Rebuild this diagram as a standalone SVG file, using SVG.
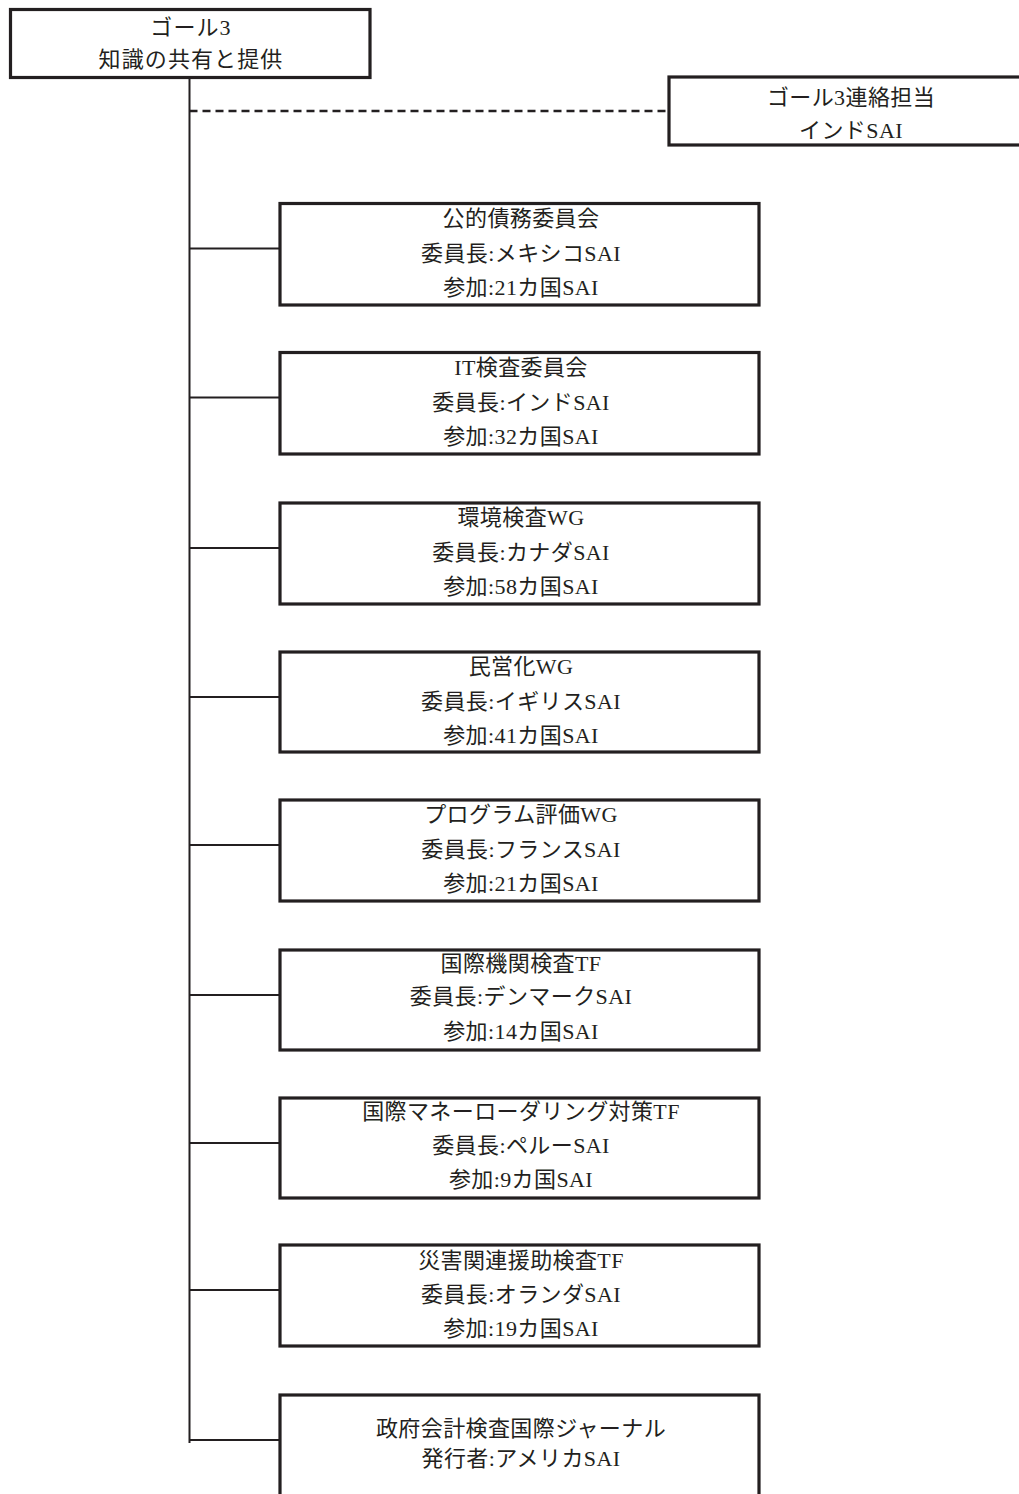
<svg xmlns="http://www.w3.org/2000/svg" width="1019" height="1494" viewBox="0 0 1019 1494">
<style>
.box{fill:#fff;stroke:#231f20;stroke-width:3.2}
.ln{stroke:#231f20;stroke-width:2;fill:none}
.dash{stroke:#231f20;stroke-width:2.6;stroke-dasharray:8 5;fill:none}
text{font-family:"Liberation Serif","Noto Sans CJK JP",serif;font-size:22px;fill:#231f20;text-anchor:middle;letter-spacing:0.4px}
.wide{letter-spacing:1.1px}
</style>
<rect width="1019" height="1494" fill="#fff"/>
<g id="connectors">
<line class="ln" x1="189.5" y1="78" x2="189.5" y2="1443"/>
<line class="dash" x1="189.5" y1="111" x2="668" y2="111"/>
<line class="ln" x1="189.5" y1="248.5" x2="280" y2="248.5"/>
<line class="ln" x1="189.5" y1="397.5" x2="280" y2="397.5"/>
<line class="ln" x1="189.5" y1="548" x2="280" y2="548"/>
<line class="ln" x1="189.5" y1="697" x2="280" y2="697"/>
<line class="ln" x1="189.5" y1="845" x2="280" y2="845"/>
<line class="ln" x1="189.5" y1="995" x2="280" y2="995"/>
<line class="ln" x1="189.5" y1="1143" x2="280" y2="1143"/>
<line class="ln" x1="189.5" y1="1290" x2="280" y2="1290"/>
<line class="ln" x1="189.5" y1="1440" x2="280" y2="1440"/>
</g>
<g id="goal3">
<rect class="box" x="10.5" y="9.5" width="359.5" height="68"/>
<text class="wide" x="191" y="35">ゴール3</text>
<text class="wide" x="191" y="67">知識の共有と提供</text>
</g>
<g id="liaison">
<rect class="box" x="669" y="77" width="360" height="68"/>
<text x="851" y="105">ゴール3連絡担当</text>
<text x="851" y="138">インドSAI</text>
</g>
<g id="n1">
<rect class="box" x="280" y="203.5" width="479" height="101.5"/>
<text x="521" y="226">公的債務委員会</text>
<text x="521" y="261">委員長:メキシコSAI</text>
<text x="521" y="295">参加:21カ国SAI</text>
</g>
<g id="n2">
<rect class="box" x="280" y="352.5" width="479" height="101.5"/>
<text x="521" y="375">IT検査委員会</text>
<text x="521" y="410">委員長:インドSAI</text>
<text x="521" y="444">参加:32カ国SAI</text>
</g>
<g id="n3">
<rect class="box" x="280" y="503" width="479" height="101"/>
<text x="521" y="525">環境検査WG</text>
<text x="521" y="560">委員長:カナダSAI</text>
<text x="521" y="594">参加:58カ国SAI</text>
</g>
<g id="n4">
<rect class="box" x="280" y="652" width="479" height="100"/>
<text x="521" y="674">民営化WG</text>
<text x="521" y="709">委員長:イギリスSAI</text>
<text x="521" y="743">参加:41カ国SAI</text>
</g>
<g id="n5">
<rect class="box" x="280" y="800" width="479" height="101"/>
<text x="521" y="822">プログラム評価WG</text>
<text x="521" y="857">委員長:フランスSAI</text>
<text x="521" y="891">参加:21カ国SAI</text>
</g>
<g id="n6">
<rect class="box" x="280" y="950" width="479" height="100"/>
<text x="521" y="971">国際機関検査TF</text>
<text x="521" y="1004">委員長:デンマークSAI</text>
<text x="521" y="1039">参加:14カ国SAI</text>
</g>
<g id="n7">
<rect class="box" x="280" y="1098" width="479" height="100"/>
<text x="521" y="1119">国際マネーローダリング対策TF</text>
<text x="521" y="1153">委員長:ペルーSAI</text>
<text x="521" y="1187">参加:9カ国SAI</text>
</g>
<g id="n8">
<rect class="box" x="280" y="1245" width="479" height="101"/>
<text x="521" y="1268">災害関連援助検査TF</text>
<text x="521" y="1302">委員長:オランダSAI</text>
<text x="521" y="1336">参加:19カ国SAI</text>
</g>
<g id="n9">
<rect class="box" x="280" y="1395" width="479" height="120"/>
<text x="521" y="1436">政府会計検査国際ジャーナル</text>
<text x="521" y="1466">発行者:アメリカSAI</text>
</g>
</svg>
